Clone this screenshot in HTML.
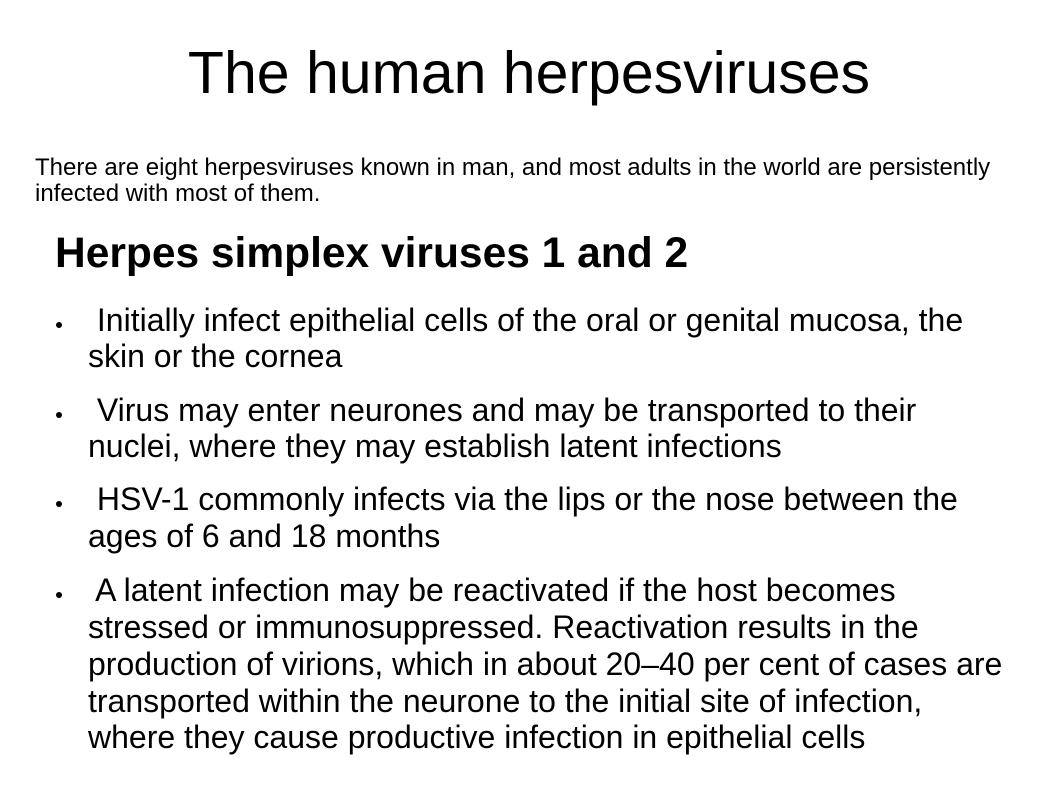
<!DOCTYPE html>
<html><head><meta charset="utf-8"><style>
body{margin:0;width:1058px;height:794px;background:#fff;overflow:hidden;font-family:"Liberation Sans",sans-serif;color:#000;position:relative}
.l{position:absolute;white-space:pre;line-height:36px;font-size:32px}
.b{position:absolute;left:56px;width:6px;height:6px;border-radius:50%;background:#000}
</style></head><body>
<div style="position:absolute;left:0;width:1058px;top:38px;text-align:center;font-size:59px;line-height:70px">The human herpesviruses</div>
<div style="position:absolute;left:35px;top:155px;font-size:24px;line-height:26px;white-space:pre">There are eight herpesviruses known in man, and most adults in the world are persistently
infected with most of them.</div>
<div style="position:absolute;left:55px;top:232px;font-size:42.5px;font-weight:bold;line-height:44px;white-space:pre">Herpes simplex viruses 1 and 2</div>
<div>
<div class="b" style="top:322px"></div>
<div class="l" style="left:88px;top:302px"> Initially infect epithelial cells of the oral or genital mucosa, the</div>
<div class="l" style="left:88px;top:338px">skin or the cornea</div>
<div class="b" style="top:412px"></div>
<div class="l" style="left:88px;top:392px"> Virus may enter neurones and may be transported to their</div>
<div class="l" style="left:88px;top:428px">nuclei, where they may establish latent infections</div>
<div class="b" style="top:501px"></div>
<div class="l" style="left:88px;top:481px"> HSV-1 commonly infects via the lips or the nose between the</div>
<div class="l" style="left:88px;top:518px">ages of 6 and 18 months</div>
<div class="b" style="top:592px"></div>
<div class="l" style="left:88px;top:572px"> A latent infection may be reactivated if the host becomes</div>
<div class="l" style="left:88px;top:609px">stressed or immunosuppressed. Reactivation results in the</div>
<div class="l" style="left:88px;top:646px">production of virions, which in about 20–40 per cent of cases are</div>
<div class="l" style="left:88px;top:683px">transported within the neurone to the initial site of infection,</div>
<div class="l" style="left:88px;top:719px">where they cause productive infection in epithelial cells</div>
</div>
</body></html>
